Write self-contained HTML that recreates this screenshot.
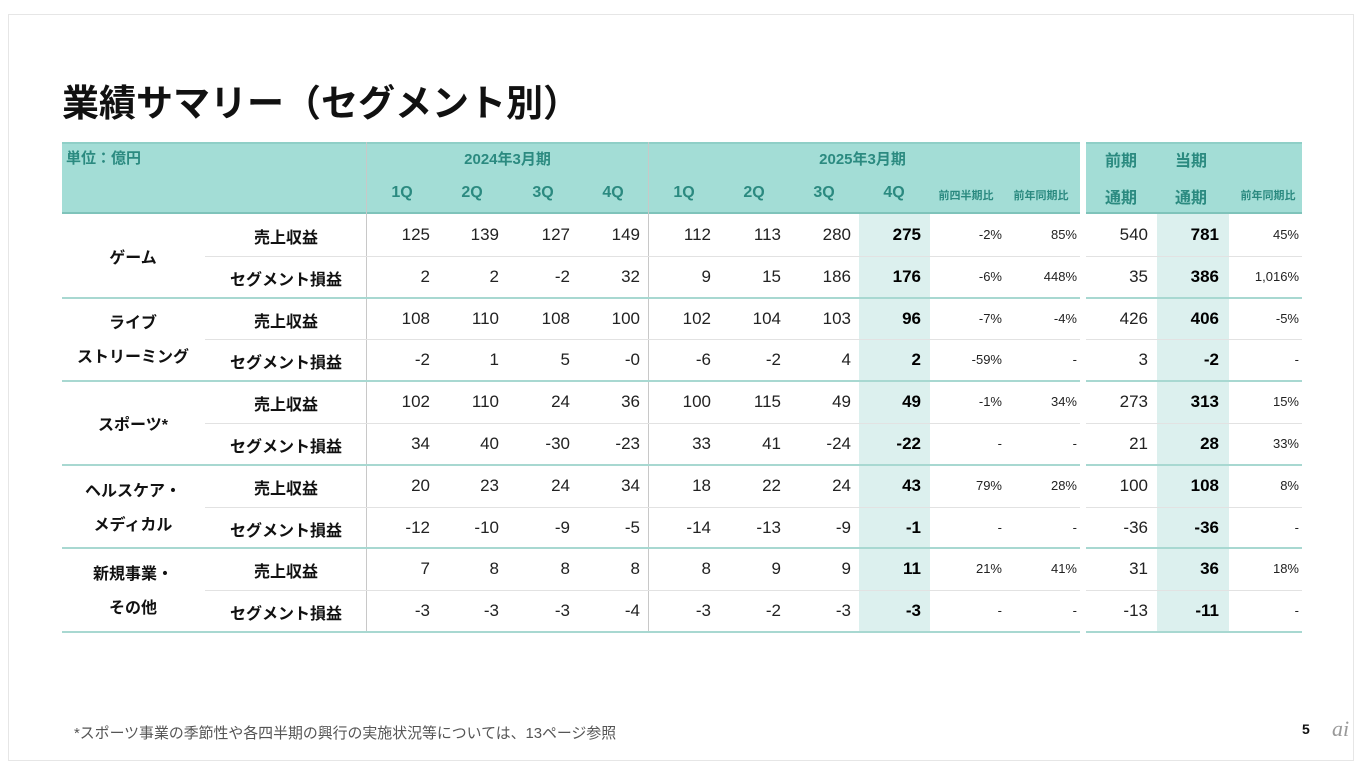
<!DOCTYPE html>
<html><head><meta charset="utf-8">
<style>
body{margin:0;width:1360px;height:751px;background:#fff;position:relative;overflow:hidden;font-family:"Liberation Sans","Noto Sans CJK JP",sans-serif;}
.a{position:absolute;white-space:nowrap;}
.frame{position:absolute;left:8px;top:14px;width:1344px;height:745px;border:1px solid #e6e6e6;}
.hdr{color:#2b8a80;font-weight:bold;}
.num{font-size:17px;color:#222;text-align:right;width:80px;}
.pct{font-size:13px;color:#222;text-align:right;width:80px;}
.lbl{font-size:16px;font-weight:bold;color:#111;text-align:center;}
</style></head>
<body>
<div class="frame"></div>
<div class="a" style="left:62px;top:73px;font-size:37px;font-weight:bold;color:#111;">業績サマリー（セグメント別）</div>
<div class="a" style="left:62px;top:142px;width:1018px;height:72px;background:#a3ddd6;border-top:2px solid #8fcfc7;border-bottom:2px solid #7fc3ba;box-sizing:border-box;"></div>
<div class="a" style="left:1086px;top:142px;width:216px;height:72px;background:#a3ddd6;border-top:2px solid #8fcfc7;border-bottom:2px solid #7fc3ba;box-sizing:border-box;"></div>
<div class="a" style="left:859px;top:214px;width:71px;height:418px;background:#dcf0ee;"></div>
<div class="a" style="left:1157px;top:214px;width:72px;height:418px;background:#dcf0ee;"></div>
<div class="a" style="left:366px;top:142px;width:1px;height:490px;background:#c8c8c8;"></div>
<div class="a" style="left:648px;top:142px;width:1px;height:490px;background:#c8c8c8;"></div>
<div class="a hdr" style="left:66px;top:147px;font-size:15px;">単位：億円</div>
<div class="a hdr" style="left:440px;top:148px;font-size:15px;width:135px;text-align:center;">2024年3月期</div>
<div class="a hdr" style="left:795px;top:148px;font-size:15px;width:135px;text-align:center;">2025年3月期</div>
<div id="root"></div>
<div class="a" style="left:74px;top:722px;font-size:14.9px;color:#555;">*スポーツ事業の季節性や各四半期の興行の実施状況等については、13ページ参照</div>
<div class="a" style="left:1302px;top:721px;font-size:14px;font-weight:bold;color:#111;">5</div>
<div class="a" style="left:1332px;top:716px;font-size:22px;font-style:italic;color:#999;font-family:'Liberation Serif',serif;">ai</div>
<script>
const segments=[["ゲーム"],["ライブ","ストリーミング"],["スポーツ*"],["ヘルスケア・","メディカル"],["新規事業・","その他"]];
const subLabels=["売上収益","セグメント損益"];
const colHeaders=[["1Q"],["2Q"],["3Q"],["4Q"],["1Q"],["2Q"],["3Q"],["4Q"],["前四半期比"],["前年同期比"],["前期","通期"],["当期","通期"],["前年同期比"]];
const rowValues=[
["125","139","127","149","112","113","280","275","-2%","85%","540","781","45%"],
["2","2","-2","32","9","15","186","176","-6%","448%","35","386","1,016%"],
["108","110","108","100","102","104","103","96","-7%","-4%","426","406","-5%"],
["-2","1","5","-0","-6","-2","4","2","-59%","-","3","-2","-"],
["102","110","24","36","100","115","49","49","-1%","34%","273","313","15%"],
["34","40","-30","-23","33","41","-24","-22","-","-","21","28","33%"],
["20","23","24","34","18","22","24","43","79%","28%","100","108","8%"],
["-12","-10","-9","-5","-14","-13","-9","-1","-","-","-36","-36","-"],
["7","8","8","8","8","9","9","11","21%","41%","31","36","18%"],
["-3","-3","-3","-4","-3","-2","-3","-3","-","-","-13","-11","-"]
];
const colRight=[430,499,570,640,711,781,851,921,1002,1077,1148,1219,1299];
const colCenter=[402,472,543,613,684,754,824,894,966,1041,1121,1191,1268];
const root=document.getElementById('root');
const top0=214,rh=41.8;
function div(cls,style,txt){const d=document.createElement('div');d.className='a '+cls;d.style.cssText=style;d.textContent=txt;root.appendChild(d);return d;}
colHeaders.forEach((h,i)=>{
  const small=h[0].length>3;
  h.forEach((t,k)=>{
    const y=h.length===2?(k===0?147:184):(small?187:184);
    const d=div('hdr',`left:${colCenter[i]-45}px;width:90px;text-align:center;top:${y}px;font-size:${small?11:16}px;`,t);
    
    
  });
});
rowValues.forEach((row,r)=>{
  const y=top0+r*rh;
  const sl=div('lbl',`left:205px;width:162px;top:${y+10}px;`,subLabels[r%2]);
  
  
  row.forEach((v,c)=>{
    const isPct=(c===8||c===9||c===12);
    const bold=(c===7||c===11);
    const d=div(isPct?'pct':'num',`left:${colRight[c]-80}px;top:${y+(isPct?13:11)}px;${bold?'font-weight:bold;color:#000;':''}`,v);
    
    
  });
  if(r%2===0){
    const ln=div('',`left:205px;top:${y+rh}px;width:875px;height:1px;background:#e2e2e2;`,'');
    
    
    const ln2=div('',`left:1086px;top:${y+rh}px;width:216px;height:1px;background:#e2e2e2;`,'');
    
    
  } else {
    const ln=div('',`left:62px;top:${y+rh-1}px;width:1018px;height:2px;background:#a8d8d1;`,'');
    
    
    const ln2=div('',`left:1086px;top:${y+rh-1}px;width:216px;height:2px;background:#a8d8d1;`,'');
    
    
  }
});
segments.forEach((s,i)=>{
  const yc=top0+i*2*rh+rh;
  s.forEach((t,k)=>{
    const y=s.length===1?yc-12:yc-30+k*34;
    const d=div('lbl',`left:53px;width:160px;top:${y}px;`,t);
    
    
  });
});
</script>
</body></html>
